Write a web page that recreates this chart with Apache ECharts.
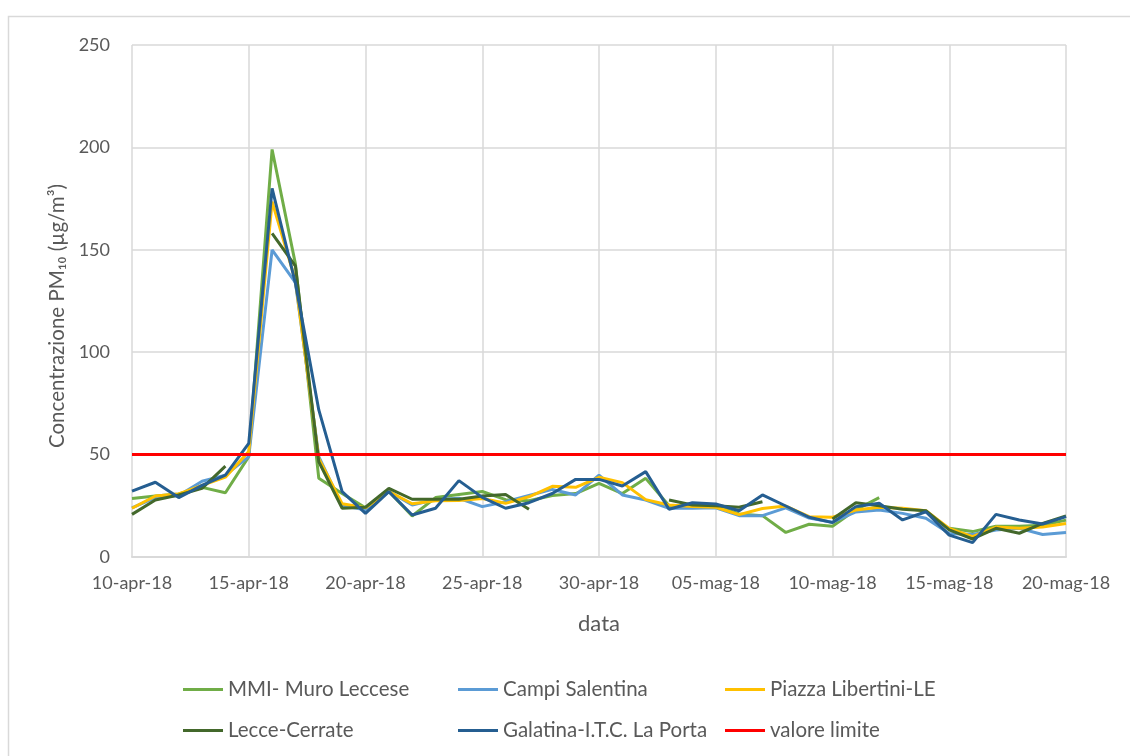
<!DOCTYPE html>
<html>
<head>
<meta charset="utf-8">
<script src="https://cdn.jsdelivr.net/npm/echarts@6/dist/echarts.min.js"></script>
<style>
html,body{margin:0;padding:0;background:#fff;}
#c{width:1130px;height:756px;}
</style>
</head>
<body>
<div id="c"></div>
<script>
const dates = ["10-apr-18","11-apr-18","12-apr-18","13-apr-18","14-apr-18","15-apr-18","16-apr-18","17-apr-18","18-apr-18","19-apr-18",
"20-apr-18","21-apr-18","22-apr-18","23-apr-18","24-apr-18","25-apr-18","26-apr-18","27-apr-18","28-apr-18","29-apr-18",
"30-apr-18","01-mag-18","02-mag-18","03-mag-18","04-mag-18","05-mag-18","06-mag-18","07-mag-18","08-mag-18","09-mag-18",
"10-mag-18","11-mag-18","12-mag-18","13-mag-18","14-mag-18","15-mag-18","16-mag-18","17-mag-18","18-mag-18","19-mag-18","20-mag-18"];

const mmiMuroLeccese = [28.6,29.8,30.8,34,31.4,49,199,143,38.4,31,
24,32,20,29,30.5,32,28,27.5,30,31,
36,31,38.4,25,25,25,21,20.2,12,16,
15,23,29,null,null,14,12.4,15,15,15.5,18];

const campiSalentina = [24,29,30,37,40,49,150,134,49,25,
23,32,25.4,28,28.7,24.6,27,30,33,30.3,
40,30.3,27.8,23.8,23.8,24,20.2,20.2,24,19,
17,22,23,21.3,18.9,11.5,11,13.2,14,11,12];

const piazzaLibertini = [23.8,29.8,30.8,35,39,51.5,173.5,135,48,26,
24,32,26,27.5,27.6,28.6,26.2,29.4,34.5,34,
38.9,36.3,28,25.4,24.6,24.3,20.7,23.7,24.9,19.7,
19.4,22.9,24.3,23.8,22.6,14,9.9,14.6,14,14.6,16.4];

const lecceCerrate = [20.8,27.8,30.3,33.5,44.4,null,158,142,46.5,23.8,
24.3,33.5,28.2,28.2,28.2,29.8,30.5,23.3,null,null,
null,null,null,27.8,25.4,25,24.3,27,null,null,
18.6,26.5,25,23.3,22.6,13.2,8.8,14,11.6,16.4,20];

const galatina = [32.2,36.5,29,35,40,55.5,180,133.6,71.8,31.9,
21.3,31.9,20.5,23.8,37.3,29.1,23.8,26.5,31,37.9,
37.9,34.7,41.7,23.3,26.5,25.9,22.6,30.3,24.9,19.4,
16.8,24.6,26.2,18.1,22.1,10.7,7,20.8,18.1,16.1,19.7];

const valoreLimite = dates.map(() => 50);

const seriesNames = ["MMI- Muro Leccese","Campi Salentina","Piazza Libertini-LE","Lecce-Cerrate","Galatina-I.T.C. La Porta","valore limite"];
const seriesColors = ["#70ad47","#5b9bd5","#ffc000","#43682b","#255e91","#ff0000"];
const seriesData = [mmiMuroLeccese,campiSalentina,piazzaLibertini,lecceCerrate,galatina,valoreLimite];

const FONT = "Lato";
const legendLefts = [183,458,725];
const legendTops = [679,720];
const legends = seriesNames.map((n,i)=>({
  data:[n],
  left:legendLefts[i%3], top:legendTops[Math.floor(i/3)],
  itemWidth:40, itemHeight:3, icon:'rect', padding:0,
  textStyle:{fontSize:20.5,color:'#595959',fontFamily:FONT}
}));

const chart = echarts.init(document.getElementById('c'));
chart.setOption({
  animation:false,
  backgroundColor:'#fff',
  textStyle:{fontFamily:FONT},
  graphic:[{type:'rect',shape:{x:8.5,y:16.5,width:1140,height:760},style:{fill:null,stroke:'#d9d9d9',lineWidth:1.5},silent:true}],
  grid:{left:132,right:64,top:45,bottom:199},
  legend:legends,
  xAxis:{
    type:'category', data:dates, boundaryGap:false,
    axisLine:{show:true,lineStyle:{color:'#d9d9d9',width:2}},
    axisTick:{show:false},
    axisLabel:{interval:4,color:'#595959',fontSize:18,margin:17,fontFamily:FONT},
    splitLine:{show:true,interval:4,lineStyle:{color:'#d9d9d9',width:1.5}},
    name:'data', nameLocation:'middle', nameGap:56,
    nameTextStyle:{fontSize:22,color:'#595959',fontFamily:FONT}
  },
  yAxis:{
    type:'value', min:0, max:250, interval:50,
    axisLine:{show:false}, axisTick:{show:false},
    axisLabel:{color:'#595959',fontSize:18,margin:22,fontFamily:FONT},
    splitLine:{show:true,lineStyle:{color:'#d9d9d9',width:1.5}},
    name:'Concentrazione PM\u2081\u2080 (\u00b5g/m\u00b3)', nameLocation:'middle', nameGap:62, nameRotate:90,
    nameTextStyle:{fontSize:20.5,color:'#595959',fontFamily:FONT,padding:[0,30,0,0]}
  },
  series: seriesNames.map((n,i)=>({
    name:n, type:'line', data:seriesData[i], showSymbol:false, symbol:'none',
    connectNulls:false,
    lineStyle:{color:seriesColors[i],width:3},
    itemStyle:{color:seriesColors[i]},
    z: 2+i
  }))
});
</script>
</body>
</html>
